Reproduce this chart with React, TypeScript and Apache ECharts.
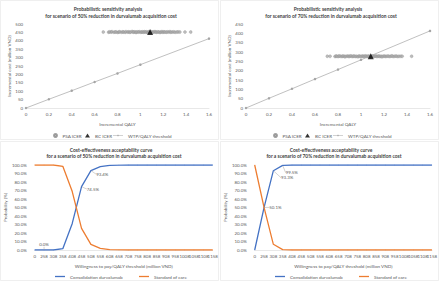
import React, { useEffect, useRef } from 'react';
import * as echarts from 'echarts';

// ---------- data ----------
const qalyTicks = [0, 1.6, 0.2];
const wtpQaly = [0, 0.2, 0.4, 0.6, 0.8, 1.0, 1.6];
const wtpCost = [0, 52, 103, 155, 206, 258, 413];

const psa50: [number, number][] = [
  [0.676, 452], [0.722, 451], [0.731, 453], [0.745, 452], [0.752, 454], [0.768, 451], [0.779, 452],
  [0.788, 453], [0.801, 450], [0.812, 452], [0.819, 454], [0.834, 451], [0.846, 453], [0.853, 452],
  [0.867, 451], [0.874, 454], [0.889, 452], [0.897, 453], [0.908, 451], [0.915, 452], [0.929, 455],
  [0.938, 451], [0.946, 453], [0.957, 452], [0.963, 450], [0.972, 453], [0.984, 452], [0.991, 454],
  [1.003, 451], [1.011, 452], [1.019, 453], [1.028, 451], [1.036, 454], [1.044, 452], [1.053, 453],
  [1.061, 450], [1.069, 452], [1.077, 454], [1.086, 451], [1.094, 453], [1.102, 452], [1.111, 451],
  [1.118, 453], [1.127, 454], [1.136, 452], [1.142, 451], [1.153, 453], [1.161, 452], [1.172, 450],
  [1.179, 452], [1.188, 454], [1.197, 451], [1.206, 453], [1.214, 452], [1.226, 451], [1.235, 453],
  [1.247, 452], [1.258, 454], [1.266, 451], [1.279, 452], [1.291, 453], [1.304, 451], [1.318, 452],
  [1.331, 453], [1.345, 452], [1.39, 452], [1.44, 452],
];
const bc50: [number, number] = [1.085, 453];

const psa70: [number, number][] = [
  [0.707, 277], [0.731, 277], [0.774, 276], [0.783, 278], [0.791, 277], [0.803, 276], [0.811, 279],
  [0.822, 277], [0.834, 276], [0.842, 278], [0.853, 277], [0.861, 275], [0.872, 277], [0.884, 278],
  [0.893, 276], [0.902, 277], [0.911, 279], [0.923, 276], [0.932, 277], [0.941, 278], [0.952, 276],
  [0.961, 277], [0.973, 275], [0.982, 278], [0.991, 277], [1.002, 276], [1.012, 278], [1.021, 277],
  [1.029, 276], [1.038, 279], [1.047, 277], [1.056, 276], [1.064, 278], [1.073, 277], [1.082, 275],
  [1.091, 277], [1.101, 278], [1.109, 276], [1.118, 277], [1.127, 279], [1.136, 276], [1.146, 277],
  [1.155, 278], [1.163, 276], [1.174, 277], [1.182, 275], [1.193, 277], [1.204, 278], [1.213, 276],
  [1.224, 277], [1.236, 278], [1.247, 276], [1.258, 277], [1.269, 279], [1.281, 276], [1.293, 277],
  [1.306, 278], [1.318, 276], [1.331, 277], [1.346, 277], [1.358, 277], [1.44, 277],
];
const bc70: [number, number] = [1.085, 277];

const wtpCategories = ['0', '258', '308', '358', '408', '458', '508', '558', '608', '658', '708', '758',
  '808', '858', '908', '958', '1008', '1058', '1108', '1158'];
const durva50 = [0, 0, 0, 1.5, 31, 74.5, 93.4, 98, 99.5, 99.9, 100, 100, 100, 100, 100, 100, 100, 100, 100, 100];
const soc50 = [100, 100, 100, 98.5, 69, 25.5, 6.6, 2, 0.5, 0.1, 0, 0, 0, 0, 0, 0, 0, 0, 0, 0];
const durva70 = [0, 49.9, 93.3, 99.5, 100, 100, 100, 100, 100, 100, 100, 100, 100, 100, 100, 100, 100, 100, 100, 100];
const soc70 = [100, 50.1, 6.7, 0.5, 0, 0, 0, 0, 0, 0, 0, 0, 0, 0, 0, 0, 0, 0, 0, 0];

// ---------- styles ----------
const FONT = 'Lato';
const TXT = '#595959';
const GRID_GREY = '#D9D9D9';
const BLUE = '#4472C4';
const ORANGE = '#ED7D31';
const GREY = '#A5A5A5';
const TICK_FS = 4.4;
const NAME_FS = 4.6;
const LEG_FS = 4.6;
const TITLE_FS = 4.9;

const pct = (v: number) => v.toFixed(1) + '%';

function labelled(values: number[], shown: number[], pos: string) {
  return values.map((v, i) =>
    shown.includes(i)
      ? { value: v, label: { show: true, position: pos, distance: pos === 'top' ? 3 : 5, formatter: (p: any) => pct(p.value), fontSize: TICK_FS, color: TXT, fontFamily: FONT } }
      : v,
  );
}

const nudges: Record<string, [number, number]> = {};

export default function App() {
  const ref = useRef<HTMLDivElement>(null);
  useEffect(() => {
    if (!ref.current) return;
    const chart = echarts.init(ref.current, undefined, { renderer: 'svg' });

    const grids = [
      { left: 26, top: 24, width: 183, height: 84 },
      { left: 246, top: 24, width: 184, height: 84 },
      { left: 34.7, top: 165, width: 178, height: 85 },
      { left: 254.7, top: 165, width: 178, height: 85 },
    ];

    const valueX = (gi: number) => ({
      type: 'value', gridIndex: gi, min: qalyTicks[0], max: qalyTicks[1], interval: qalyTicks[2],
      name: 'Incremental QALY', nameLocation: 'middle', nameGap: 13,
      nameTextStyle: { fontSize: NAME_FS, color: TXT, fontFamily: FONT },
      axisLine: { show: true, lineStyle: { color: GRID_GREY, width: 0.6 } },
      axisTick: { show: false }, splitLine: { show: false },
      axisLabel: { fontSize: TICK_FS, color: TXT, margin: 4, fontFamily: FONT },
    });
    const valueY = (gi: number, max: number) => ({
      type: 'value', gridIndex: gi, min: 0, max, interval: 50,
      name: 'Incremental cost (million VND)', nameLocation: 'middle', nameGap: 14,
      nameTextStyle: { fontSize: NAME_FS, color: TXT, fontFamily: FONT },
      axisLine: { show: false }, axisTick: { show: false }, splitLine: { show: false },
      axisLabel: { fontSize: TICK_FS, color: TXT, margin: 3, fontFamily: FONT },
    });
    const catX = (gi: number) => ({
      type: 'category', gridIndex: gi, data: wtpCategories, boundaryGap: false,
      name: 'Willingness to pay/QALY threshold (million VND)', nameLocation: 'middle', nameGap: 13,
      nameTextStyle: { fontSize: NAME_FS, color: TXT, fontFamily: FONT },
      axisLine: { show: true, lineStyle: { color: GRID_GREY, width: 0.6 } },
      axisTick: { show: false }, splitLine: { show: false },
      axisLabel: { fontSize: TICK_FS, color: TXT, margin: 4, interval: 0, fontFamily: FONT },
    });
    const pctY = (gi: number) => ({
      type: 'value', gridIndex: gi, min: 0, max: 100, interval: 10,
      name: 'Probability (%)', nameLocation: 'middle', nameGap: 27,
      nameTextStyle: { fontSize: NAME_FS, color: TXT, fontFamily: FONT },
      axisLine: { show: false }, axisTick: { show: false }, splitLine: { show: false },
      axisLabel: { fontSize: TICK_FS, color: TXT, margin: 8, formatter: (v: number) => pct(v), fontFamily: FONT },
    });

    const wtpData = wtpQaly.map((q, i) => [q, wtpCost[i]]);

    const scatterSeries = (gi: number, psa: [number, number][], bc: [number, number]) => [
      {
        name: 'PSA ICER', type: 'scatter', xAxisIndex: gi, yAxisIndex: gi, data: psa,
        symbol: 'circle', symbolSize: 3,
        itemStyle: { color: '#ADADAD', borderColor: '#8C8C8C', borderWidth: 0.4 },
      },
      {
        name: 'WTP/QALY threshold', type: 'line', xAxisIndex: gi, yAxisIndex: gi, data: wtpData,
        symbol: 'circle', symbolSize: 2.5, showSymbol: true,
        lineStyle: { color: GREY, width: 0.7 }, itemStyle: { color: GREY },
      },
      {
        name: 'BC ICER', type: 'scatter', xAxisIndex: gi, yAxisIndex: gi, data: [bc],
        symbol: 'triangle', symbolSize: 6, itemStyle: { color: '#000000' }, z: 5,
      },
    ];

    const lineSeries = (gi: number, name: string, vals: any[], color: string) => ({
      name, type: 'line', xAxisIndex: gi, yAxisIndex: gi, data: vals,
      symbol: 'circle', symbolSize: 0.5, showSymbol: true,
      lineStyle: { color, width: 1.3 }, itemStyle: { color },
      labelLine: { show: true, lineStyle: { color: '#A6A6A6', width: 0.5 } },
      labelLayout: (params: any) => {
        const k = `${params.seriesIndex}-${params.dataIndex}`;
        const n = nudges[k];
        return n ? { dx: n[0], dy: n[1] } : {};
      },
    });

    const series: any[] = [
      ...scatterSeries(0, psa50, bc50),
      ...scatterSeries(1, psa70, bc70),
      lineSeries(2, 'Consolidation durvalumab', labelled(durva50, [1, 5, 6], 'right'), BLUE),
      lineSeries(2, 'Standard of care', soc50, ORANGE),
      lineSeries(3, 'Consolidation durvalumab', labelled(durva70, [2, 3], 'right'), BLUE),
      lineSeries(3, 'Standard of care', labelled(soc70, [1], 'right'), ORANGE),
    ];
    (series[6].data[1] as any).label.position = 'top';
    (series[6].data[1] as any).label.distance = 3;
    nudges['6-5'] = [0, 2.4];
    nudges['6-6'] = [0, 3.6];
    nudges['8-2'] = [2.4, 7];
    nudges['8-3'] = [-2.3, 7.3];

    const legItem = (name: string, left: number, top: number, w: number, h: number, icon?: string, extra: any = {}) => ({
      data: [icon ? { name, icon } : name], left, top, itemWidth: w, itemHeight: h, padding: 0, itemGap: 0,
      textStyle: { fontSize: LEG_FS, color: TXT, fontFamily: FONT }, selectedMode: false, ...extra,
    });

    // line-with-marker icon for WTP legend: thin bar plus small diamond
    const wtpIcon = 'path://M0,4.6 L20,4.6 L20,5.4 L0,5.4 Z M10,3 L12,5 L10,7 L8,5 Z';

    const legends: any[] = [];
    [0, 220].forEach((ox) => {
      legends.push(legItem('PSA ICER', ox + 53, 133, 4, 3));
      legends.push(legItem('BC ICER', ox + 85, 133, 5, 4));
      legends.push(legItem('WTP/QALY threshold', ox + 113, 133, 10, 5, wtpIcon, { itemStyle: { color: GREY, borderWidth: 0 } }));
    });
    [0, 220].forEach((ox) => {
      legends.push(legItem('Consolidation durvalumab', ox + 55, 274, 10, 1.3, 'rect'));
      legends.push(legItem('Standard of care', ox + 139, 274, 10, 1.3, 'rect'));
    });

    const titleText = (text: string, x: number, y: number) => ({
      type: 'text', x, y, silent: true,
      style: { text, fill: '#404040', fontSize: TITLE_FS, fontWeight: 'bold', fontFamily: FONT, textAlign: 'center', textVerticalAlign: 'middle' },
    });
    const border = (x: number, y: number) => ({
      type: 'rect', silent: true, shape: { x, y, width: 218, height: 139 },
      style: { fill: 'none', stroke: '#E4E4E4', lineWidth: 0.6 },
    });

    chart.setOption({
      animation: false,
      backgroundColor: '#ffffff',
      textStyle: { fontFamily: FONT },
      grid: grids,
      xAxis: [valueX(0), valueX(1), catX(2), catX(3)],
      yAxis: [valueY(0, 500), valueY(1, 450), pctY(2), pctY(3)],
      legend: legends,
      series,
      graphic: [
        border(0.5, 0.5), border(220.5, 0.5), border(0.5, 141.5), border(220.5, 141.5),
        titleText('Probabilistic sensitivity analysis', 108, 9),
        titleText('for scenario of 50% reduction in durvalumab acquisition cost', 111, 15.5),
        titleText('Probabilistic sensitivity analysis', 328, 9),
        titleText('for scenario of 70% reduction in durvalumab acquisition cost', 331, 15.5),
        titleText('Cost-effectiveness acceptability curve', 111, 150),
        titleText('for a scenario of 50% reduction in durvalumab acquisition cost', 114, 156),
        titleText('Cost-effectiveness acceptability curve', 331, 150),
        titleText('for a scenario of 70% reduction in durvalumab acquisition cost', 334, 156),
      ],
    });
    return () => chart.dispose();
  }, []);

  return (
    <div
      ref={ref}
      style={{ position: 'absolute', left: 0, top: 0, width: 440, height: 282, background: '#fff' }}
    />
  );
}
